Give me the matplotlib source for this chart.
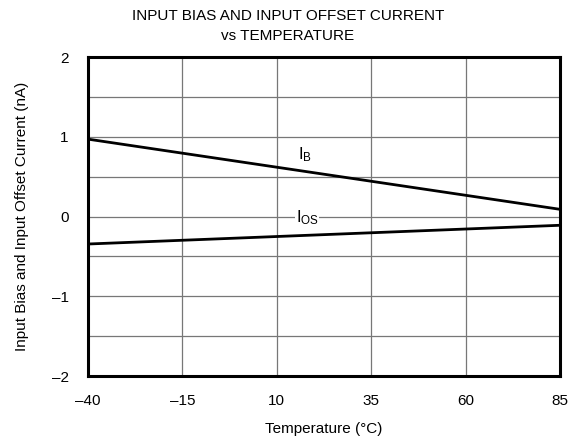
import matplotlib
matplotlib.use("Agg")
import matplotlib.pyplot as plt
import numpy as np

plt.rcParams['font.family'] = ['Liberation Sans', 'DejaVu Sans']

#temperature endpoints and currents
temps = [-40, 85]
ibias = [0.97, 0.09]
ioffset = [-0.345, -0.11]

xticks = [-40, -15, 10, 35, 60, 85]
yticks = [-2, -1, 0, 1, 2]

fig = plt.figure(figsize=(5.76, 4.43), dpi=100)
ax = fig.add_axes([88/576, 1-376/443, (560-88)/576, (376-57)/443])

ax.set_xlim(-40, 85)
ax.set_ylim(-2, 2)
ax.set_xticks(xticks)
ax.set_yticks(yticks)
ax.set_xticklabels([str(t).replace('-', '\u2013') for t in xticks], fontsize=11)
ax.set_yticklabels([str(t).replace('-', '\u2013') for t in yticks], fontsize=11)
ax.set_yticks(np.arange(-1.5, 2, 1.0), minor=True)
ax.tick_params(which='both', length=0)
ax.tick_params(axis='x', pad=13)
ax.tick_params(axis='y', pad=14)

ax.grid(True, which='major', color='#777777', lw=0.9)
ax.grid(True, which='minor', axis='y', color='#777777', lw=0.9)
ax.set_axisbelow(True)
for s in ax.spines.values():
    s.set_linewidth(2.2)

ax.plot(temps, ibias, color='black', lw=2)
ax.plot(temps, ioffset, color='black', lw=2)

ax.text(15.5, 0.77, r'$\mathregular{I_B}$', fontsize=12, ha='left', va='center')
ax.text(15.0, -0.02, r'$\mathregular{I_{OS}}$', fontsize=12, ha='left', va='center',
        bbox=dict(facecolor='white', edgecolor='none', pad=0.5))

ax.set_xlabel('Temperature (\u00b0C)', fontsize=11, labelpad=10)
ax.set_ylabel('Input Bias and Input Offset Current (nA)', fontsize=11, labelpad=16)
fig.text(0.5, 1-26/443, 'INPUT BIAS AND INPUT OFFSET CURRENT\nvs TEMPERATURE',
         ha='center', va='center', fontsize=11, linespacing=1.55)

fig.savefig('out.png', dpi=100)
